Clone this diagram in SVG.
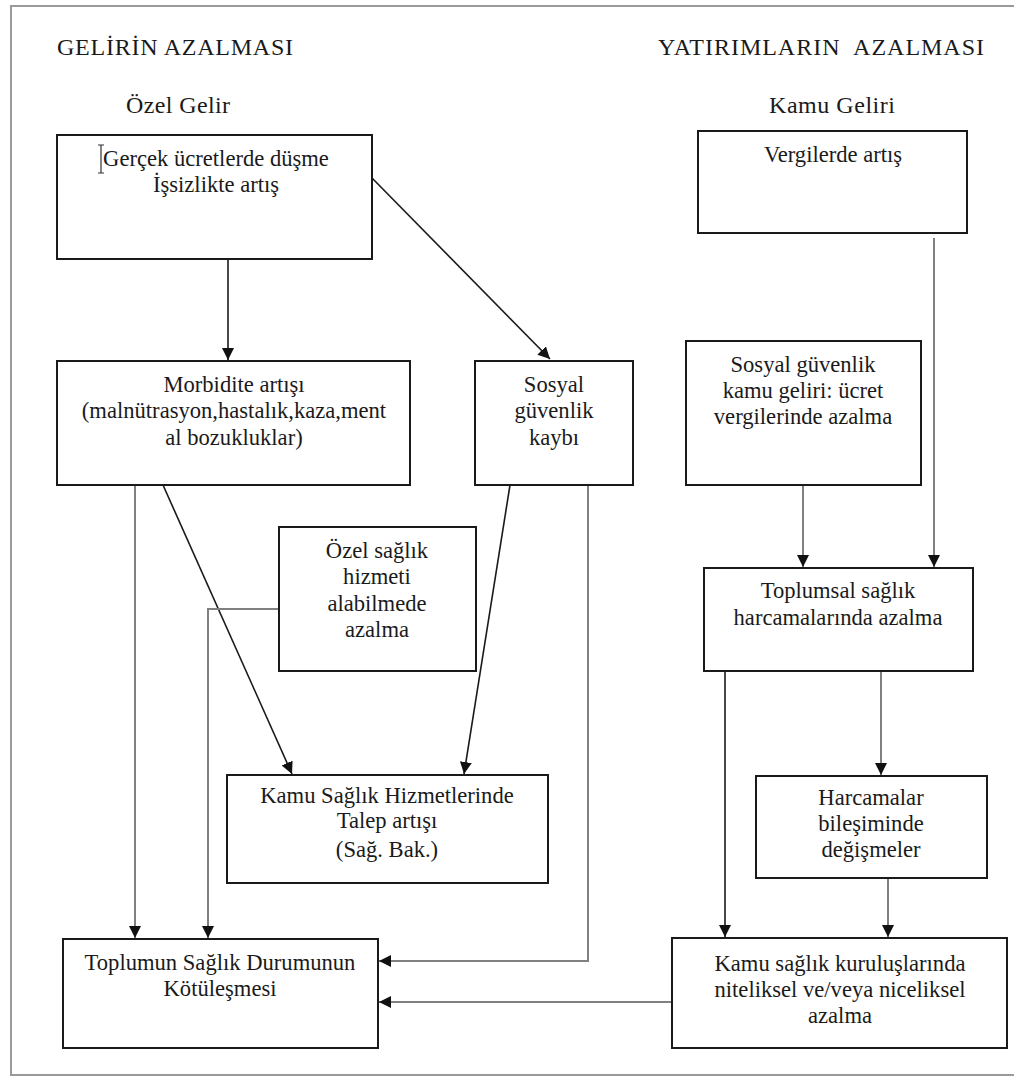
<svg xmlns="http://www.w3.org/2000/svg" width="1014" height="1077" viewBox="0 0 1014 1077">
<defs>
<style>
text{font-family:'Liberation Serif','Tinos','DejaVu Serif',serif}
.t{font-size:22.6px;fill:#1a1a1a;text-anchor:middle}
.h{font-size:24px;fill:#1a1a1a}
.box{fill:#fff;stroke:#1a1a1a;stroke-width:2}
.c{fill:none;stroke:#1a1a1a;stroke-width:1.6}
.g{fill:none;stroke:#808080;stroke-width:2}
.frame{fill:none;stroke:#9a9a9a;stroke-width:2}
</style>
<marker id="ar" viewBox="0 0 10 10" refX="10" refY="5" markerWidth="12" markerHeight="12" markerUnits="userSpaceOnUse" orient="auto">
<path d="M0,0 L10,5 L0,10 z" fill="#111"/>
</marker>
</defs>
<rect width="1014" height="1077" fill="#fff"/>
<path class="frame" d="M1014,6 H11 V1075 H1014"/>
<g id="titles">
<text class="h" x="57" y="55" textLength="236">GELİRİN AZALMASI</text>
<text class="h" x="658" y="55" textLength="326" xml:space="preserve">YATIRIMLARIN  AZALMASI</text>
<text class="h" x="126" y="113" textLength="104">Özel Gelir</text>
<text class="h" x="769" y="113" textLength="126">Kamu Geliri</text>
</g>

<g id="connectors">
<line class="c" x1="228" y1="259" x2="228" y2="360" marker-end="url(#ar)"/>
<line class="c" x1="372" y1="178" x2="550" y2="359" marker-end="url(#ar)"/>
<line class="g" x1="135" y1="485" x2="135" y2="938" marker-end="url(#ar)"/>
<line class="c" x1="163" y1="485" x2="292" y2="774" marker-end="url(#ar)"/>
<polyline class="g" points="279,609 208,609 208,938" marker-end="url(#ar)"/>
<line class="c" x1="510" y1="485" x2="464" y2="774" marker-end="url(#ar)"/>
<polyline class="g" points="588,485 588,961 379,961" marker-end="url(#ar)"/>
<line class="g" x1="934" y1="238" x2="934" y2="567" marker-end="url(#ar)"/>
<line class="g" x1="803" y1="485" x2="803" y2="567" marker-end="url(#ar)"/>
<line class="c" x1="725" y1="671" x2="725" y2="937" marker-end="url(#ar)"/>
<line class="g" x1="881" y1="671" x2="881" y2="775" marker-end="url(#ar)"/>
<line class="g" x1="888" y1="878" x2="888" y2="937" marker-end="url(#ar)"/>
<line class="g" x1="672" y1="1002" x2="379" y2="1002" marker-end="url(#ar)"/>
</g>

<g id="n-gercek">
<rect class="box" x="57" y="135" width="315" height="124"/>
<path d="M101,145 V173 M98,145 H104 M98,173 H104" stroke="#333" stroke-width="1.2" fill="none"/>
<text class="t" x="216" y="166">Gerçek ücretlerde düşme</text>
<text class="t" x="216" y="192">İşsizlikte artış</text>
</g>

<g id="n-vergi">
<rect class="box" x="698" y="131" width="269" height="102"/>
<text class="t" x="833" y="162">Vergilerde artış</text>
</g>

<g id="n-morbidite">
<rect class="box" x="57" y="361" width="353" height="124"/>
<text class="t" x="234" y="392">Morbidite artışı</text>
<text class="t" x="234" y="418">(malnütrasyon,hastalık,kaza,ment</text>
<text class="t" x="234" y="445">al bozukluklar)</text>
</g>

<g id="n-sosyal-kayip">
<rect class="box" x="475" y="361" width="158" height="124"/>
<text class="t" x="554" y="392">Sosyal</text>
<text class="t" x="554" y="418">güvenlik</text>
<text class="t" x="554" y="445">kaybı</text>
</g>

<g id="n-sosyal-kamu">
<rect class="box" x="686" y="341" width="235" height="144"/>
<text class="t" x="803" y="372">Sosyal güvenlik</text>
<text class="t" x="803" y="398">kamu geliri: ücret</text>
<text class="t" x="803" y="424">vergilerinde azalma</text>
</g>

<g id="n-ozel-saglik">
<rect class="box" x="279" y="527" width="197" height="144"/>
<text class="t" x="377" y="558">Özel sağlık</text>
<text class="t" x="377" y="584">hizmeti</text>
<text class="t" x="377" y="611">alabilmede</text>
<text class="t" x="377" y="637">azalma</text>
</g>

<g id="n-toplumsal">
<rect class="box" x="704" y="568" width="269" height="103"/>
<text class="t" x="838" y="598">Toplumsal sağlık</text>
<text class="t" x="838" y="625">harcamalarında azalma</text>
</g>

<g id="n-kamu-talep">
<rect class="box" x="227" y="775" width="321" height="108"/>
<text class="t" x="387" y="803">Kamu Sağlık Hizmetlerinde</text>
<text class="t" x="387" y="828">Talep artışı</text>
<text class="t" x="387" y="857">(Sağ. Bak.)</text>
</g>

<g id="n-harcamalar">
<rect class="box" x="756" y="776" width="231" height="102"/>
<text class="t" x="871" y="805">Harcamalar</text>
<text class="t" x="871" y="831">bileşiminde</text>
<text class="t" x="871" y="857">değişmeler</text>
</g>

<g id="n-toplumun">
<rect class="box" x="63" y="939" width="315" height="109"/>
<text class="t" x="220" y="970">Toplumun Sağlık Durumunun</text>
<text class="t" x="220" y="996">Kötüleşmesi</text>
</g>

<g id="n-kamu-kurulus">
<rect class="box" x="672" y="938" width="335" height="110"/>
<text class="t" x="840" y="971">Kamu sağlık kuruluşlarında</text>
<text class="t" x="840" y="997">niteliksel ve/veya niceliksel</text>
<text class="t" x="840" y="1023">azalma</text>
</g>
</svg>
